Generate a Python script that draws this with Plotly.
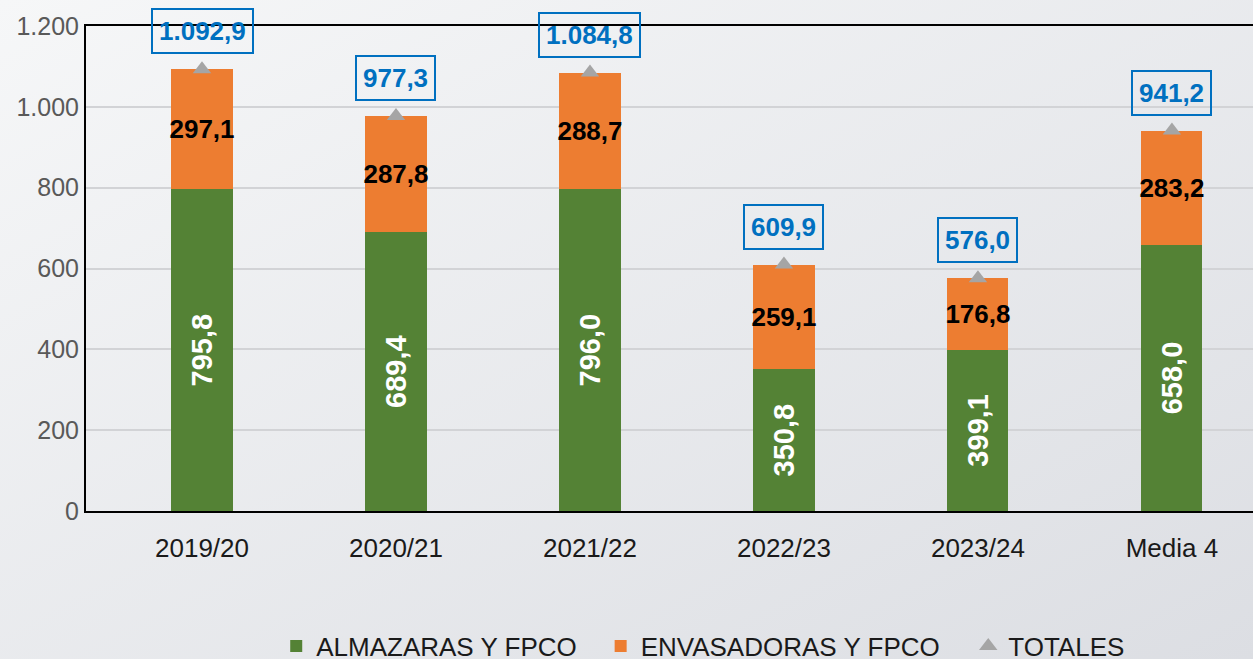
import base64
import plotly.graph_objects as go

categories = ["2019/20", "2020/21", "2021/22", "2022/23", "2023/24", "Media 4"]
almazaras = [795.8, 689.4, 796.0, 350.8, 399.1, 658.0]
envasadoras = [297.1, 287.8, 288.7, 259.1, 176.8, 283.2]
totales = [1092.9, 977.3, 1084.8, 609.9, 576.0, 941.2]
y_tickvals = [0, 200, 400, 600, 800, 1000, 1200]
y_ticktext = ["0", "200", "400", "600", "800", "1.000", "1.200"]


def es(v):
    s = f"{v:,.1f}"
    return s.replace(",", "X").replace(".", ",").replace("X", ".")


FONT = "Liberation Sans, Arial, sans-serif"
BG = "#e9ebee"
LEG_FONT = dict(family=FONT, size=26, color="#1a1a1a")

W, H = 1253, 659
ML, MR, MT, MB = 86, 0, 26, 148
PW, PH = W - ML - MR, H - MT - MB

svg = (
    f"<svg xmlns='http://www.w3.org/2000/svg' width='{W}' height='{H}'>"
    "<defs><linearGradient id='g' x1='0' y1='0' x2='1' y2='1'>"
    "<stop offset='0' stop-color='#f6f7f8'/>"
    "<stop offset='1' stop-color='#dcdee3'/>"
    "</linearGradient></defs>"
    f"<rect width='{W}' height='{H}' fill='url(#g)'/></svg>"
)
bg_uri = "data:image/svg+xml;base64," + base64.b64encode(svg.encode()).decode()

fig = go.Figure()
fig.add_trace(go.Bar(
    x=categories, y=almazaras, name="ALMAZARAS Y FPCO",
    marker=dict(color="#548235", line=dict(width=0)),
    width=0.315,
    text=[es(v) for v in almazaras], textposition="inside",
    insidetextanchor="middle", textangle=-90,
    textfont=dict(family=FONT, size=29, color="white", weight="bold"),
    constraintext="none", hoverinfo="skip", legend="legend",
))
fig.add_trace(go.Bar(
    x=categories, y=envasadoras, name="ENVASADORAS Y FPCO",
    marker=dict(color="#ed7d31", line=dict(width=0)),
    width=0.315,
    text=[es(v) for v in envasadoras], textposition="inside",
    insidetextanchor="middle", textangle=0,
    textfont=dict(family=FONT, size=26, color="black", weight="bold"),
    constraintext="none", hoverinfo="skip", legend="legend2",
))
fig.add_trace(go.Scatter(
    x=categories, y=totales, name="TOTALES", mode="markers",
    marker=dict(symbol="triangle-up", size=16, color="#a5a5a5"),
    hoverinfo="skip", legend="legend3",
))

for c, t in zip(categories, totales):
    fig.add_annotation(
        x=c, y=t, yshift=38, text=es(t), showarrow=False,
        font=dict(family=FONT, size=26, color="#0070c0", weight="bold"),
        bordercolor="#0070c0", borderwidth=2, borderpad=6,
        bgcolor="rgba(0,0,0,0)",
    )

leg_common = dict(orientation="h", xanchor="left", yref="container",
                  y=0.0197, yanchor="middle",
                  font=LEG_FONT, bgcolor="rgba(0,0,0,0)")

fig.update_layout(
    width=W, height=H,
    margin=dict(l=ML, r=MR, t=MT, b=MB, autoexpand=False),
    paper_bgcolor=BG, plot_bgcolor="rgba(0,0,0,0)",
    barmode="stack",
    showlegend=True,
    legend=dict(x=0.163, **leg_common),
    legend2=dict(x=0.441, **leg_common),
    legend3=dict(x=0.756, **leg_common),
    font=dict(family=FONT),
    images=[dict(source=bg_uri, xref="paper", yref="paper",
                 x=-ML / PW, y=1 + MT / PH, sizex=W / PW, sizey=H / PH,
                 xanchor="left", yanchor="top", sizing="stretch",
                 layer="below")],
)
fig.update_xaxes(
    range=[-0.598, 5.418], showline=True, linecolor="black", linewidth=2,
    mirror=True, showgrid=False, ticks="outside", ticklen=13,
    tickcolor="rgba(0,0,0,0)",
    tickfont=dict(family=FONT, size=26, color="#1a1a1a"),
)
fig.update_yaxes(
    range=[0, 1200], tickvals=y_tickvals, ticktext=y_ticktext,
    showline=True, linecolor="black", linewidth=2,
    showgrid=True, gridcolor="#d2d3d6", gridwidth=2,
    zeroline=False,
    tickfont=dict(family=FONT, size=25, color="#595959"),
)

fig.write_html(
    "out.html",
    config={"displayModeBar": False},
    post_script="document.body.style.margin='0';document.body.style.padding='0';"
                "document.body.style.overflow='hidden';",
)
